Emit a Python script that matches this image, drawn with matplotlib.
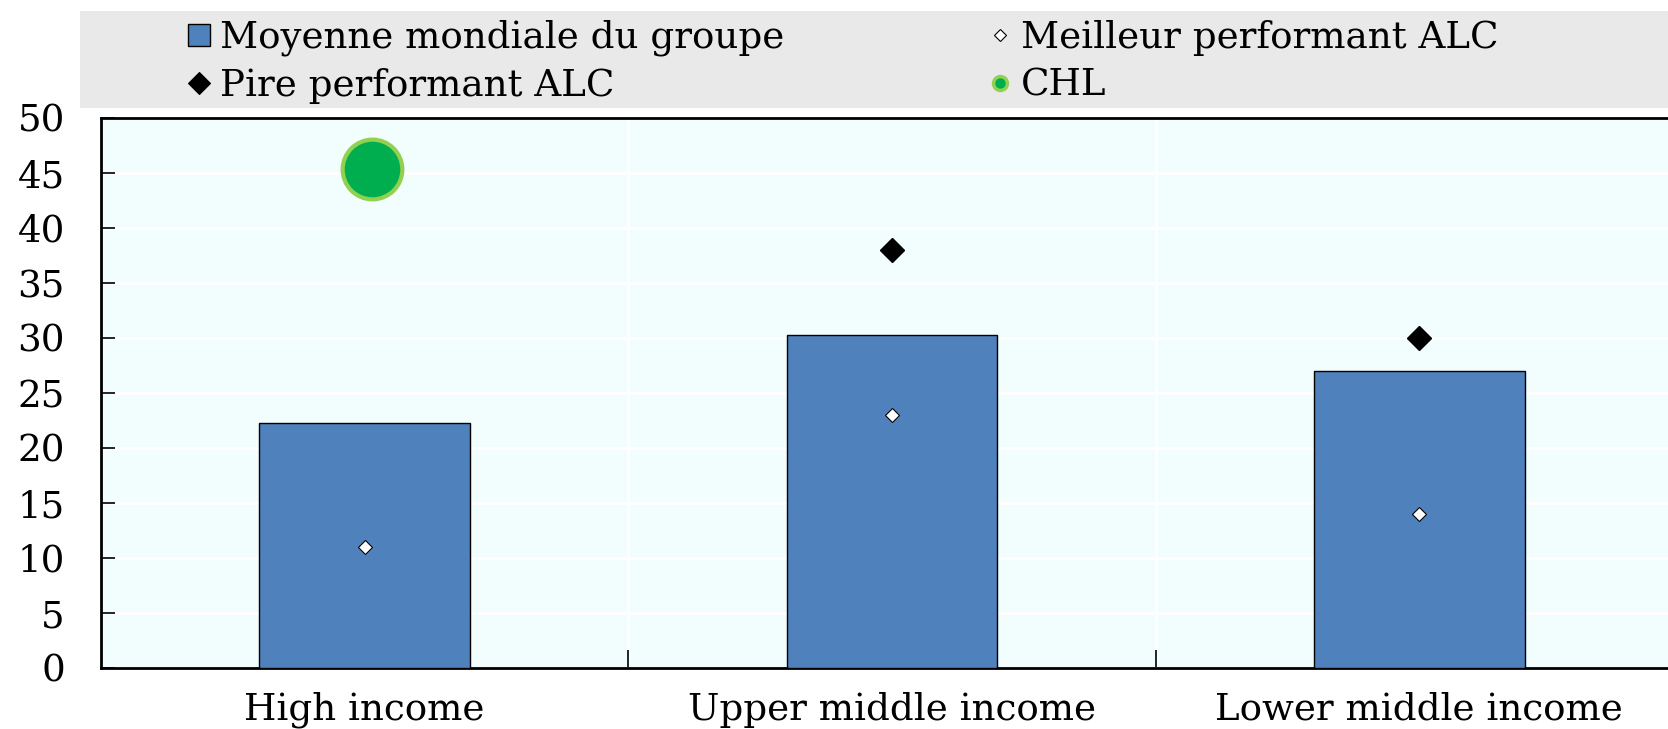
import numpy as np
import matplotlib
matplotlib.use("Agg")
import matplotlib.pyplot as plt
from matplotlib.lines import Line2D
from matplotlib.patches import Rectangle

# data
groups = ["High income", "Upper middle income", "Lower middle income"]
group_avg = [22.3, 30.3, 27.0]
best_alc = [11.0, 23.0, 14.0]
worst_alc = [np.nan, 38.0, 30.0]
chl = [45.4, np.nan, np.nan]
yticks = [0, 5, 10, 15, 20, 25, 30, 35, 40, 45, 50]

legend_labels = ["Moyenne mondiale du groupe", "Meilleur performant ALC",
                 "Pire performant ALC", "CHL"]

FONT = "DejaVu Serif"
FS = 26.8
BAR = "#4f81bd"
BG = "#f2fdfe"
GREEN = "#00ad4f"
LGREEN = "#92d050"

plt.rcParams["font.family"] = [FONT]

W, H = 1668, 729
fig = plt.figure(figsize=(W / 100, H / 100), dpi=100)

# axes: left at 101px, bottom at 668px, top at 118px, right runs off the figure
ax = fig.add_axes([101 / W, (H - 668) / H, 1582 / W, 550 / H])
ax.set_facecolor(BG)

x = np.arange(len(groups))
ax.bar(x, group_avg, width=0.4, color=BAR, edgecolor="black", linewidth=1.0, zorder=3)
ax.plot(x, best_alc, linestyle="none", marker="D", ms=7, mfc="white", mec="black",
        mew=0.8, zorder=4)
ax.plot(x, worst_alc, linestyle="none", marker="D", ms=12.5, mfc="black", mec="black",
        zorder=4)
ax.plot(x + 0.014, chl, linestyle="none", marker="o", ms=43, mfc=GREEN, mec=LGREEN,
        mew=3, zorder=5)

ax.set_xlim(-0.5, 2.5)
ax.set_ylim(0, 50)
ax.set_yticks(yticks)
ax.set_yticklabels([str(v) for v in yticks])
ax.set_xticks(x)
ax.set_xticklabels(groups)
ax.set_xticks(x[:-1] + 0.5, minor=True)

ax.tick_params(axis="y", direction="in", length=10, width=1.2, pad=26, labelsize=FS)
ax.tick_params(axis="x", which="major", length=0, pad=17, labelsize=FS)
ax.tick_params(axis="x", which="minor", direction="in", length=13, width=1.2)

ax.grid(True, axis="y", color="white", linewidth=2, zorder=0)
ax.grid(True, axis="x", which="minor", color="white", linewidth=2, zorder=0)
ax.set_axisbelow(True)

for side in ["left", "bottom", "top"]:
    ax.spines[side].set_linewidth(2)
    ax.spines[side].set_color("black")
ax.spines["right"].set_visible(False)

# legend band
fig.add_artist(Rectangle((80 / W, 1 - 108 / H), 1 - 80 / W, 97 / H,
                         transform=fig.transFigure, facecolor="#e9e9e9",
                         edgecolor="none", zorder=0))

rows = [1 - 35 / H, 1 - 83 / H]
cols = [199 / W, 1000 / W]
txt_off = 21 / W
handles = [
    dict(marker="s", ms=16, mfc=BAR, mec="black", mew=1.0),
    dict(marker="D", ms=6, mfc="white", mec="black", mew=0.8),
    dict(marker="D", ms=11, mfc="black", mec="black", mew=0.8),
    dict(marker="o", ms=10, mfc=GREEN, mec=LGREEN, mew=2.5),
]
for i, (lab, hs) in enumerate(zip(legend_labels, handles)):
    cx = cols[i % 2]
    cy = rows[i // 2]
    fig.add_artist(Line2D([cx], [cy], transform=fig.transFigure, linestyle="none", **hs))
    fig.text(cx + txt_off, cy - 3 / H, lab, fontsize=FS, va="center", ha="left")

fig.savefig("out.png", dpi=100)
